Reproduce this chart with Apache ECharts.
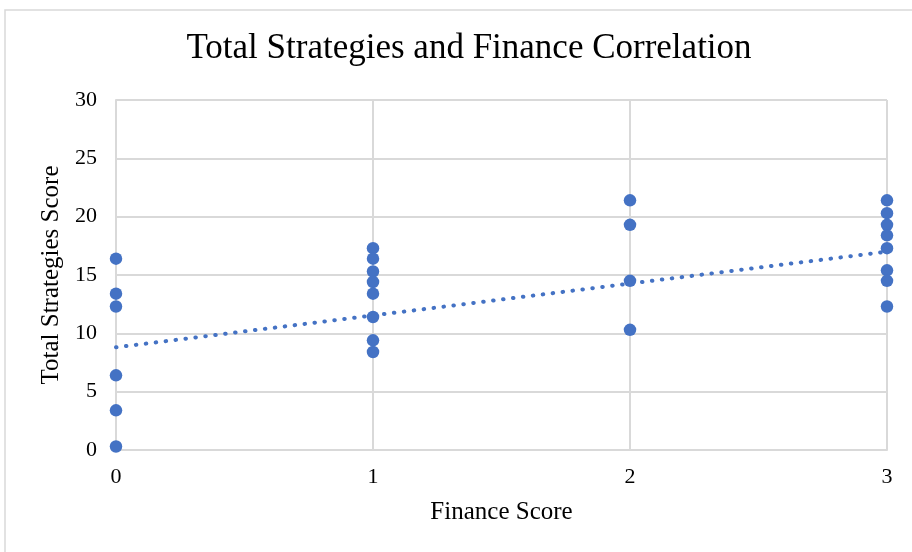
<!DOCTYPE html>
<html>
<head>
<meta charset="utf-8">
<title>Total Strategies and Finance Correlation</title>
<script src="https://cdn.jsdelivr.net/npm/echarts@6/dist/echarts.min.js"></script>
<style>
  html, body { margin: 0; padding: 0; background: #fff; }
  #chart { width: 912px; height: 552px; }
</style>
</head>
<body>
<div id="chart"></div>
<script>
// finance score (x) and total strategies score (y) per respondent
var financeScores = [0, 0, 0, 0, 0, 0,
    1, 1, 1, 1, 1, 1, 1, 1,
    2, 2, 2, 2,
    3, 3, 3, 3, 3, 3, 3, 3];
var strategyScores = [16.4, 13.4, 12.3, 6.4, 3.4, 0.3,
    17.3, 16.4, 15.3, 14.4, 13.4, 11.4, 9.4, 8.4,
    21.4, 19.3, 14.5, 10.3,
    21.4, 20.3, 19.3, 18.4, 17.3, 15.4, 14.5, 12.3];
// linear trendline end points
var trendX = [0, 3];
var trendY = [8.8, 17.0];

var xTicks = [0, 1, 2, 3];
var yTicks = [0, 5, 10, 15, 20, 25, 30];

var blue = '#4472C4';
var grey = '#d9d9d9';
var font = '"Liberation Serif", "Times New Roman", serif';

var points = [];
for (var i = 0; i < financeScores.length; i++) {
    points.push([financeScores[i], strategyScores[i]]);
}
var trend = [];
for (var j = 0; j < trendX.length; j++) {
    trend.push([trendX[j], trendY[j]]);
}

var myChart = echarts.init(document.getElementById('chart'));
var option = {
    backgroundColor: '#fff',
    animation: false,
    textStyle: { fontFamily: font },
    title: {
        left: 464,
        textAlign: 'center',
        top: 26,
        text: 'Total Strategies and Finance Correlation',
        textStyle: { fontFamily: font, fontSize: 35, fontWeight: 'normal', color: '#000' }
    },
    graphic: [{
        type: 'rect',
        silent: true,
        shape: { x: 5, y: 10, width: 1000, height: 1000 },
        style: { fill: 'none', stroke: grey, lineWidth: 1.5 }
    }],
    grid: {
        left: 116,
        right: 25,
        top: 100,
        bottom: 102
    },
    xAxis: {
        type: 'value',
        min: xTicks[0],
        max: xTicks[xTicks.length - 1],
        interval: 1,
        name: 'Finance Score',
        nameLocation: 'middle',
        nameGap: 50,
        nameTextStyle: { fontFamily: font, fontSize: 25, color: '#000' },
        axisLine: { show: true, lineStyle: { color: grey, width: 2 } },
        axisTick: { show: false },
        axisLabel: { fontFamily: font, fontSize: 22, color: '#000', margin: 16 },
        splitLine: { show: true, lineStyle: { color: grey, width: 2 } }
    },
    yAxis: {
        type: 'value',
        min: yTicks[0],
        max: yTicks[yTicks.length - 1],
        interval: 5,
        name: 'Total Strategies Score',
        nameLocation: 'middle',
        nameGap: 50,
        nameTextStyle: { fontFamily: font, fontSize: 25, color: '#000' },
        axisLine: { show: true, lineStyle: { color: grey, width: 2 } },
        axisTick: { show: false },
        axisLabel: { fontFamily: font, fontSize: 22, color: '#000', margin: 19 },
        splitLine: { show: true, lineStyle: { color: grey, width: 2 } }
    },
    series: [{
        name: 'Trendline',
        type: 'line',
        data: trend,
        showSymbol: false,
        silent: true,
        z: 1,
        lineStyle: { color: blue, width: 4, type: [0.5, 9.5], cap: 'round' }
    }, {
        name: 'Total Strategies Score',
        type: 'scatter',
        data: points,
        symbolSize: 12.5,
        z: 2,
        itemStyle: { color: blue, opacity: 1 }
    }]
};
myChart.setOption(option);
</script>
</body>
</html>
